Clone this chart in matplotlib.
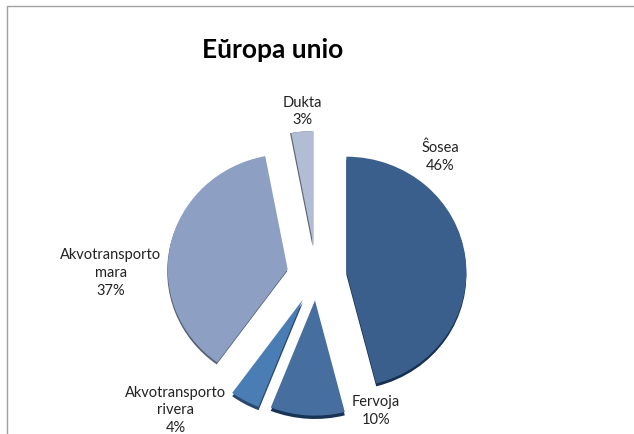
import matplotlib
matplotlib.use('Agg')
import matplotlib.pyplot as plt

plt.rcParams['font.family'] = ['Lato', 'Open Sans', 'DejaVu Sans']

# data, clockwise from 12 o'clock
categories = ['Ŝosea', 'Fervoja', 'Akvotransporto\nrivera', 'Akvotransporto\nmara', 'Dukta']
values = [46, 10, 4, 37, 3]
title = 'Eŭropa unio'

colors = ['#3B5F8C', '#466FA0', '#4A7DB3', '#8D9FC3', '#B0BDD4']
shadow_colors = ['#16304F', '#173355', '#28486E', '#565F73', '#5F6670']
explode = [30, 26, 28.8, 29.6, 30.5]  # pie takes these in data units, here pixels
shadow_shift = [(0, -3), (0, -3.5), (0, -3.5), (-0.5, -2), (-1.2, 0)]
label_pos = [(440, 156.5), (376, 411), (176, 410.5), (111, 273), (302, 111.5)]

W, H = 634, 435
cx, cy, radius = 316.6, H - 276.5, 120
squash = 0.96  # the original pie is a little wider than tall

fig = plt.figure(figsize=(W / 100, H / 100), dpi=100)
ax = fig.add_axes([0, 0, 1, 1])

# darker pie under the real one gives the bevel on the lower edges
shadow_wedges, _ = ax.pie(values, colors=shadow_colors, explode=explode, startangle=90,
                          counterclock=False, center=(cx, cy), radius=radius)
for wedge, (dx, dy) in zip(shadow_wedges, shadow_shift):
    wedge.set_center((wedge.center[0] + dx, wedge.center[1] + dy))

ax.pie(values, colors=colors, explode=explode, startangle=90, counterclock=False,
       center=(cx, cy), radius=radius)

ax.set_xlim(0, W)
ax.set_ylim(cy - cy / squash, cy + (H - cy) / squash)
ax.set_aspect('auto')
ax.axis('off')

# text and frame go on an overlay in plain pixel coordinates
over = fig.add_axes([0, 0, 1, 1])
over.set_xlim(0, W)
over.set_ylim(0, H)
over.axis('off')

for cat, val, (x, y) in zip(categories, values, label_pos):
    over.text(x, H - y, f'{cat}\n{val}%', ha='center', va='center', fontsize=10.5,
              color='#222222', linespacing=1.35)

over.text(273, H - 50, title, ha='center', va='center', fontsize=19, fontweight='bold', color='black')

# chart frame, only top and left show in the crop
over.plot([7, 7, W], [0, H - 7, H - 7], color='#A0A0A0', lw=1)

fig.savefig('out.png', dpi=100)
